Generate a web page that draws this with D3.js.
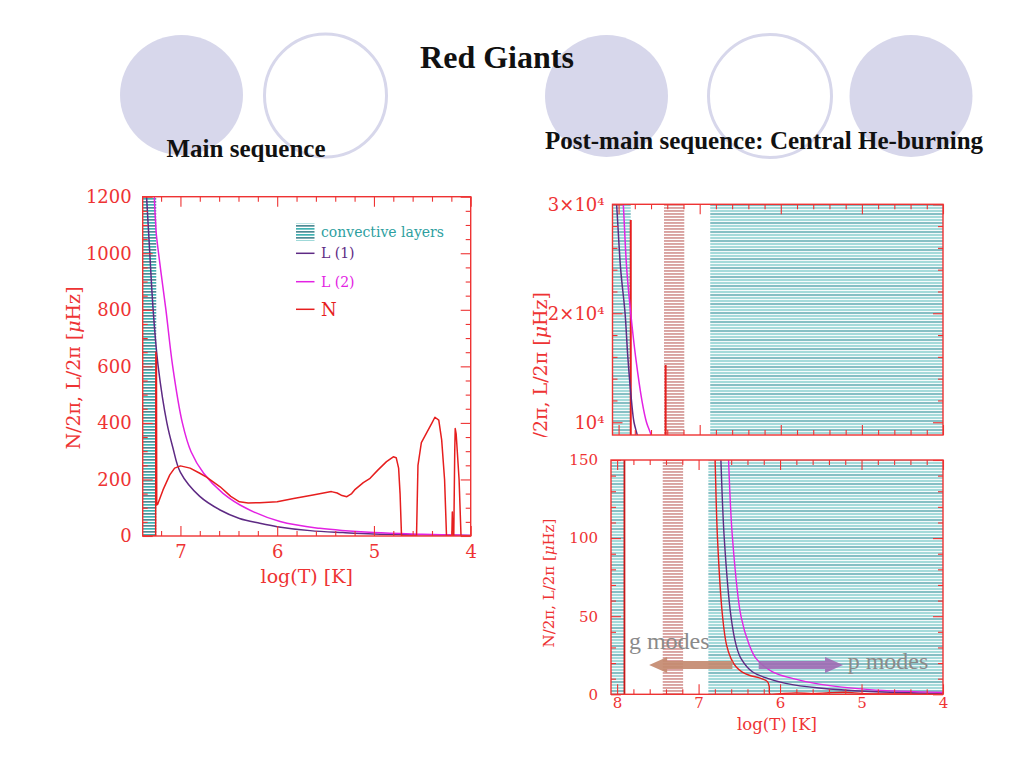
<!DOCTYPE html>
<html><head><meta charset="utf-8">
<script src="https://cdn.jsdelivr.net/npm/d3@7/dist/d3.min.js"></script>
<style>body{margin:0;background:#fff}svg{display:block}</style>
</head><body>
<svg id="c" width="1024" height="768"></svg>
<script>
// ---------------- DATA ----------------
// Left panel: main sequence  (x = log T, y = frequency in microHz)
const leftConvective = [[7.39, 7.25]];
const leftL1 = [[7.35,1200],[7.32,1020],[7.28,790],[7.23,600],[7.14,400],[7.08,315],[7.0,225],[6.8,140],[6.59,92],[6.39,62],[6.18,45],[6.0,33],[5.66,19],[5.32,12],[5.0,7],[4.5,4],[4.0,2]];
const leftL2 = [[7.272,1230],[7.265,1160],[7.255,1100],[7.25,1070],[7.2,930],[7.15,800],[7.08,600],[6.98,400],[6.89,298],[6.76,222],[6.56,151],[6.32,98],[5.97,51],[5.56,27],[5.0,12],[4.5,6],[4.0,2]];
const leftN = [[7.39,0],[7.256,0],[7.254,650],[7.248,620],[7.245,110],[7.235,112],[7.18,163],[7.11,216],[7.06,240],[7.0,248],[6.9,240],[6.8,222],[6.73,208],[6.59,174],[6.48,140],[6.39,121],[6.3,117],[6.18,118],[6.0,121],[5.83,133],[5.63,145],[5.44,157],[5.38,152],[5.33,143],[5.28,139],[5.23,150],[5.2,163],[5.11,189],[5.04,204],[4.96,233],[4.87,263],[4.80,280],[4.77,277],[4.745,240],[4.73,150],[4.715,0],[4.56,0],[4.545,250],[4.51,330],[4.46,362],[4.40,400],[4.37,420],[4.33,410],[4.30,340],[4.27,200],[4.25,0],[4.195,0],[4.19,85],[4.185,0],[4.175,0],[4.165,300],[4.16,380],[4.15,360],[4.12,200],[4.10,0],[4.0,0]];
const leftXTicks = [7, 6, 5, 4];
const leftYTicks = [0, 200, 400, 600, 800, 1000, 1200];

// Right panels: post-main sequence, central He-burning
const rightConvTop = [[8.075, 7.85], [6.87, 4.0]];
const rightConvBottom = [[8.075, 7.905], [6.88, 4.0]];
const rightOtherZone = [[7.44, 7.19]];
const topL1 = [[8.06,33000],[8.025,30000],[7.975,24100],[7.92,20000],[7.886,16000],[7.84,11900],[7.81,10000],[7.77,8830],[7.75,8000]];
const topL2 = [[7.97,33000],[7.942,30000],[7.90,24100],[7.85,20000],[7.79,16000],[7.71,11900],[7.656,10000],[7.60,8830],[7.58,8000]];
const topNSpikes = [[7.85, 28560], [7.42, 15260]];
const bottomNSpikes = [[7.91, 400]];
const bottomN = [[6.81,175],[6.797,150],[6.768,100],[6.706,50],[6.657,31.6],[6.603,23],[6.54,17.6],[6.468,14.4],[6.378,12.2],[6.235,10.2],[6.154,8.1],[6.133,4.9],[6.124,0],[6.0,0.4],[5.8,0.9],[5.6,0.4],[5.4,1.0],[5.2,1.3],[5.0,0.6],[4.8,0.3],[4.4,0.2],[4.0,0]];
const bottomL1 = [[6.74,175],[6.726,150],[6.685,100],[6.603,50],[6.54,31.6],[6.48,23],[6.34,14.4],[6.154,10.2],[5.93,7],[5.52,4],[4.9,1.8],[4.0,0.6]];
const bottomL2 = [[6.645,175],[6.632,150],[6.584,100],[6.48,50],[6.378,31.6],[6.296,23],[6.092,14.4],[5.85,10.2],[5.52,6.5],[4.9,3],[4.0,1.2]];
const rightXTicks = [8, 7, 6, 5, 4];
const topYTicks = [10000, 20000, 30000];
const bottomYTicks = [0, 50, 100, 150];

// ---------------- STYLE ----------------
const RED = "#ee3333", C_L1 = "#5e2a84", C_L2 = "#e322e3", C_N = "#e61e1e";
const FONT = "DejaVu Serif";
const svg = d3.select("#c");
svg.append("rect").attr("width",1024).attr("height",768).attr("fill","#fff");
const defs = svg.append("defs");

function stripePattern(id, h, lines){
  const p = defs.append("pattern").attr("id",id).attr("patternUnits","userSpaceOnUse").attr("width",10).attr("height",h);
  p.append("rect").attr("width",10).attr("height",h).attr("fill","#fff");
  lines.forEach(([y,t,c]) => p.append("rect").attr("y",y).attr("width",10).attr("height",t).attr("fill",c));
}
stripePattern("tealL", 6, [[0,1.7,"#3fb3b3"],[3,1.7,"#4f8a94"]]);
stripePattern("tealR", 9, [[0,2.1,"#a5dada"],[3,2.1,"#a5dada"],[6,2.1,"#86bfc4"]]);
stripePattern("brown", 3, [[0,1.9,"#d9a2a0"]]);

// ---------------- DECORATION ----------------
const deco = svg.append("g");
const LAV = "#d7d7eb";
[[181.5,95,61.5,60,true],[325.5,95.5,61,61.5,false],[606.5,96,61.5,61,true],[770,96,61.5,61.5,false],[911,96,61.5,61,true]]
  .forEach(([cx,cy,rx,ry,f]) => deco.append("ellipse").attr("cx",cx).attr("cy",cy).attr("rx",rx).attr("ry",ry)
    .attr("fill", f ? LAV : "none").attr("stroke", LAV).attr("stroke-width", f ? 0 : 3));

const TFONT = "Liberation Serif";
svg.append("text").attr("x",497).attr("y",68).attr("text-anchor","middle").attr("font-family",TFONT).attr("font-weight","bold").attr("font-size",32).attr("fill","#111").text("Red Giants");
svg.append("text").attr("x",246).attr("y",157).attr("text-anchor","middle").attr("font-family",TFONT).attr("font-weight","bold").attr("font-size",25).attr("fill","#111").text("Main sequence");
svg.append("text").attr("x",764).attr("y",149).attr("text-anchor","middle").attr("font-family",TFONT).attr("font-weight","bold").attr("font-size",25).attr("fill","#111").text("Post-main sequence: Central He-burning");

// ---------------- HELPERS ----------------
let clipN = 0;
function clipFor(x, y){
  const id = "clip" + (clipN++);
  const [x0,x1] = x.range(), [y0,y1] = y.range();
  defs.append("clipPath").attr("id",id).append("rect").attr("x",x0).attr("y",y1).attr("width",x1-x0).attr("height",y0-y1);
  return "url(#"+id+")";
}
function minorTicks(domain, step, majors){
  const lo = Math.min(...domain), hi = Math.max(...domain);
  const out = [];
  for (let i = Math.ceil(lo/step - 1e-9); i*step <= hi + 1e-9; i++){
    const v = +(i*step).toFixed(6);
    if (!majors.some(m => Math.abs(m - v) < 1e-6)) out.push(v);
  }
  return out;
}
function styleAxis(sel, fs){
  sel.select(".domain").remove();
  sel.selectAll(".tick line").attr("stroke", RED).attr("stroke-width", 1.1);
  sel.selectAll(".tick text").attr("fill", RED).attr("font-family", FONT).attr("font-size", fs);
}
function axes(g, x, y, o){
  const [x0,x1] = x.range(), [y0,y1] = y.range();
  const none = () => "";
  const xMin = minorTicks(x.domain(), o.xStep, o.xMajor), yMin = minorTicks(y.domain(), o.yStep, o.yMajor);
  g.append("g").attr("transform",`translate(0,${y0})`).call(d3.axisBottom(x).tickValues(o.xMajor).tickSizeInner(-o.maj).tickSizeOuter(0).tickPadding(o.xPad).tickFormat(o.xFmt || none)).call(s=>styleAxis(s,o.xFs));
  g.append("g").attr("transform",`translate(0,${y0})`).call(d3.axisBottom(x).tickValues(xMin).tickSizeInner(-o.min).tickSizeOuter(0).tickFormat(none)).call(s=>styleAxis(s,o.xFs));
  g.append("g").attr("transform",`translate(0,${y1})`).call(d3.axisTop(x).tickValues(o.xMajor).tickSizeInner(-o.maj).tickSizeOuter(0).tickFormat(none)).call(s=>styleAxis(s,o.xFs));
  g.append("g").attr("transform",`translate(0,${y1})`).call(d3.axisTop(x).tickValues(xMin).tickSizeInner(-o.min).tickSizeOuter(0).tickFormat(none)).call(s=>styleAxis(s,o.xFs));
  g.append("g").attr("transform",`translate(${x0},0)`).call(d3.axisLeft(y).tickValues(o.yMajor).tickSizeInner(-o.maj).tickSizeOuter(0).tickPadding(o.yPad).tickFormat(o.yFmt || none)).call(s=>styleAxis(s,o.yFs));
  g.append("g").attr("transform",`translate(${x0},0)`).call(d3.axisLeft(y).tickValues(yMin).tickSizeInner(-o.min).tickSizeOuter(0).tickFormat(none)).call(s=>styleAxis(s,o.yFs));
  g.append("g").attr("transform",`translate(${x1},0)`).call(d3.axisRight(y).tickValues(o.yMajor).tickSizeInner(-o.maj).tickSizeOuter(0).tickFormat(none)).call(s=>styleAxis(s,o.yFs));
  g.append("g").attr("transform",`translate(${x1},0)`).call(d3.axisRight(y).tickValues(yMin).tickSizeInner(-o.min).tickSizeOuter(0).tickFormat(none)).call(s=>styleAxis(s,o.yFs));
  g.append("rect").attr("x",x0).attr("y",y1).attr("width",x1-x0).attr("height",y0-y1).attr("fill","none").attr("stroke",RED).attr("stroke-width",1.4);
}
function zones(g, x, y, data, fill){
  const [y0,y1] = y.range();
  g.selectAll(null).data(data).join("rect")
    .attr("x", d => x(d[0])).attr("width", d => x(d[1]) - x(d[0]))
    .attr("y", y1).attr("height", y0 - y1).attr("fill", fill);
}
function curve(g, x, y, data, color, w, cv){
  g.append("path").datum(data).attr("fill","none").attr("stroke",color).attr("stroke-width",w)
    .attr("stroke-linejoin","round")
    .attr("d", d3.line().x(d=>x(d[0])).y(d=>y(d[1])).curve(cv || d3.curveCatmullRom.alpha(0.5)));
}
function spikes(g, x, y, data, color, w){
  g.selectAll(null).data(data).join("line")
    .attr("x1", d=>x(d[0])).attr("x2", d=>x(d[0]))
    .attr("y1", y.range()[0]).attr("y2", d=>y(d[1]))
    .attr("stroke", color).attr("stroke-width", w);
}

// ---------------- LEFT PANEL ----------------
const xL = d3.scaleLinear().domain([7.39, 4]).range([142.7, 470.7]);
const yL = d3.scaleLinear().domain([0, 1200]).range([536, 196.7]);
const gL = svg.append("g");
const pL = gL.append("g").attr("clip-path", clipFor(xL, yL));
zones(pL, xL, yL, leftConvective, "url(#tealL)");
curve(pL, xL, yL, leftL1, C_L1, 1.5);
curve(pL, xL, yL, leftL2, C_L2, 1.5);
curve(pL, xL, yL, leftN, C_N, 1.5, d3.curveLinear);
axes(gL, xL, yL, {xMajor:leftXTicks, yMajor:leftYTicks, xStep:0.2, yStep:50, maj:10, min:5,
  xPad:9, yPad:11, xFs:18, yFs:18, xFmt:d3.format("d"), yFmt:d3.format("d")});
gL.append("text").attr("x",306.7).attr("y",583).attr("text-anchor","middle").attr("font-family",FONT).attr("font-size",19).attr("fill",RED).text("log(T) [K]");
const ylab = gL.append("text").attr("transform","translate(73,368) rotate(-90)").attr("text-anchor","middle").attr("dominant-baseline","central")
  .attr("font-family",FONT).attr("font-size",19).attr("fill",RED);
ylab.append("tspan").text("N/2π, L/2π [");
ylab.append("tspan").attr("font-style","italic").text("μ");
ylab.append("tspan").text("Hz]");

// legend
const lg = gL.append("g").attr("font-family",FONT).attr("font-size",14);
lg.append("rect").attr("x",296).attr("y",223.5).attr("width",18.5).attr("height",17).attr("fill","url(#tealL)");
lg.append("text").attr("x",321).attr("y",236.5).attr("fill","#2e9f9f").text("convective layers");
[["L (1)",C_L1,253.3,14],["L (2)",C_L2,281.7,14],["N",C_N,309.3,18]].forEach(([t,c,yy,fs]) => {
  lg.append("line").attr("x1",296).attr("x2",314.5).attr("y1",yy).attr("y2",yy).attr("stroke",c).attr("stroke-width",1.5);
  lg.append("text").attr("x",321).attr("y",yy + fs*0.36).attr("font-size",fs).attr("fill",c).text(t);
});

// ---------------- RIGHT TOP PANEL ----------------
const xRT = d3.scaleLinear().domain([8.075, 4]).range([612.5, 943]);
const yRT = d3.scaleLinear().domain([8830, 30000]).range([435, 204.3]);
const gRT = svg.append("g");
const pRT = gRT.append("g").attr("clip-path", clipFor(xRT, yRT));
zones(pRT, xRT, yRT, rightConvTop, "url(#tealR)");
zones(pRT, xRT, yRT, rightOtherZone, "url(#brown)");
spikes(pRT, xRT, yRT, topNSpikes, C_N, 2);
curve(pRT, xRT, yRT, topL1, C_L1, 1.5);
curve(pRT, xRT, yRT, topL2, C_L2, 1.5);
const sup = d => (d/1e4 === 1 ? "10⁴" : (d/1e4) + "×10⁴");
axes(gRT, xRT, yRT, {xMajor:rightXTicks, yMajor:topYTicks, xStep:0.2, yStep:2000, maj:10, min:5,
  xPad:5, yPad:8, xFs:16, yFs:18, xFmt:null, yFmt:sup});
defs.append("clipPath").attr("id","clipRTlab").append("rect").attr("x",515).attr("y",180).attr("width",60).attr("height",257);
const rtl = gRT.append("g").attr("clip-path","url(#clipRTlab)").append("text").attr("transform","translate(540,292) rotate(-90)")
  .attr("text-anchor","end").attr("dominant-baseline","central").attr("font-family",FONT).attr("font-size",19).attr("fill",RED);
rtl.append("tspan").text("N/2π, L/2π [");
rtl.append("tspan").attr("font-style","italic").text("μ");
rtl.append("tspan").text("Hz]");

// ---------------- RIGHT BOTTOM PANEL ----------------
const xRB = d3.scaleLinear().domain([8.075, 4]).range([611, 943]);
const yRB = d3.scaleLinear().domain([0, 150]).range([694.3, 460]);
const gRB = svg.append("g");
const pRB = gRB.append("g").attr("clip-path", clipFor(xRB, yRB));
zones(pRB, xRB, yRB, rightConvBottom, "url(#tealR)");
zones(pRB, xRB, yRB, rightOtherZone, "url(#brown)");
spikes(pRB, xRB, yRB, bottomNSpikes, "#c81818", 1.8);
curve(pRB, xRB, yRB, bottomN, C_N, 1.4);
curve(pRB, xRB, yRB, bottomL1, C_L1, 1.4);
curve(pRB, xRB, yRB, bottomL2, C_L2, 1.4);

// mode arrows (in data units)
function arrow(g, from, to, v, color){
  const xa = xRB(from), xb = xRB(to), yc = yRB(v);
  const dir = Math.sign(xb - xa), head = 18, bh = 4, hh = 8;
  const xh = xb - dir*head;
  const pts = [[xa,yc-bh],[xh,yc-bh],[xh,yc-hh],[xb,yc],[xh,yc+hh],[xh,yc+bh],[xa,yc+bh]];
  g.append("polygon").attr("points", pts.map(p=>p.join(",")).join(" ")).attr("fill", color);
}
arrow(gRB, 6.585, 7.607, 18.8, "rgba(196,138,112,0.92)");
arrow(gRB, 6.262, 5.227, 18.8, "rgba(158,108,180,0.9)");
gRB.append("text").attr("x",xRB(7.855)).attr("y",649).attr("font-family",TFONT).attr("font-size",24).attr("fill","#8a8a8a").text("g modes");
gRB.append("text").attr("x",xRB(5.17)).attr("y",669).attr("font-family",TFONT).attr("font-size",24).attr("fill","#8a8a8a").text("p modes");

axes(gRB, xRB, yRB, {xMajor:rightXTicks, yMajor:bottomYTicks, xStep:0.2, yStep:10, maj:10, min:5,
  xPad:3, yPad:13, xFs:15, yFs:15, xFmt:d3.format("d"), yFmt:d3.format("d")});
gRB.append("text").attr("x",777).attr("y",729.5).attr("text-anchor","middle").attr("font-family",FONT).attr("font-size",16.5).attr("fill",RED).text("log(T) [K]");
const rbl = gRB.append("text").attr("transform","translate(549,583) rotate(-90)").attr("text-anchor","middle").attr("dominant-baseline","central")
  .attr("font-family",FONT).attr("font-size",15).attr("fill",RED);
rbl.append("tspan").text("N/2π, L/2π [");
rbl.append("tspan").attr("font-style","italic").text("μ");
rbl.append("tspan").text("Hz]");
</script>
</body></html>
